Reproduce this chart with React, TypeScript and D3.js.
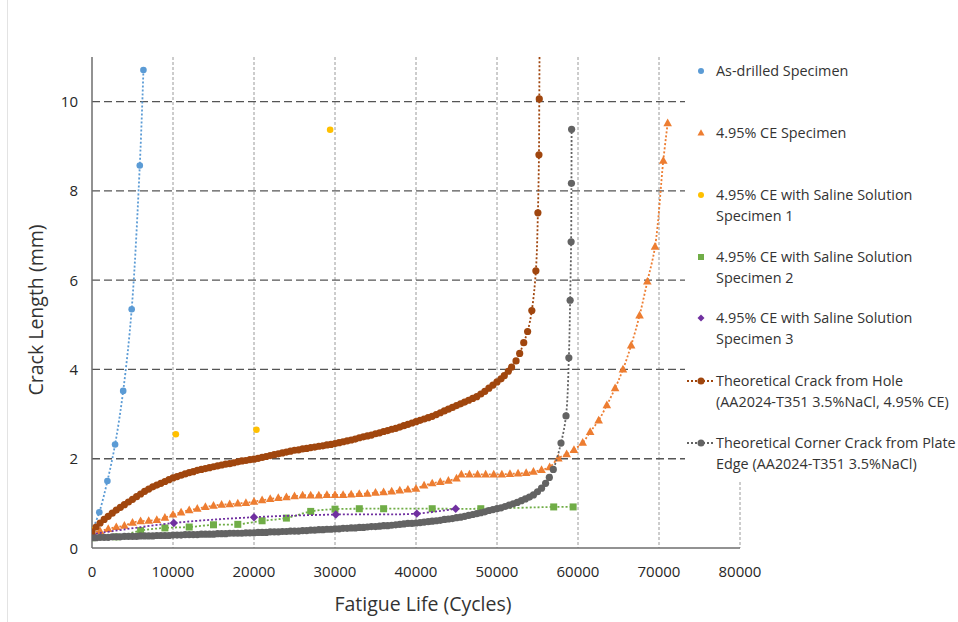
import React from 'react';
import * as d3 from 'd3';

// ---------- DATA ----------
const xTicks = [0, 10000, 20000, 30000, 40000, 50000, 60000, 70000, 80000];
const yTicks = [0, 2, 4, 6, 8, 10];

const asDrilled: [number, number][] = [
  [0, 0.38], [900, 0.8], [1900, 1.5], [2850, 2.32], [3850, 3.52], [4900, 5.35], [5900, 8.57], [6350, 10.71],
];

const ceSpecimen: [number, number][] = [
  [0, 0.35], [1000, 0.38], [2000, 0.43], [3000, 0.47], [4000, 0.5], [5000, 0.57], [6000, 0.6], [7000, 0.61],
  [8000, 0.63], [9000, 0.68], [10000, 0.75], [11000, 0.8], [12000, 0.85], [13000, 0.88], [14000, 0.92],
  [15000, 0.95], [16000, 0.97], [17000, 0.98], [18000, 1.0], [19000, 1.01], [20000, 1.04], [21000, 1.07],
  [22000, 1.1], [23000, 1.12], [24000, 1.14], [25000, 1.16], [26000, 1.18], [27000, 1.18], [28000, 1.18],
  [29000, 1.19], [30000, 1.19], [31000, 1.19], [32000, 1.2], [33000, 1.21], [34000, 1.22], [35000, 1.24],
  [36000, 1.25], [37000, 1.27], [38000, 1.29], [39000, 1.31], [40000, 1.33], [41000, 1.4], [42000, 1.45],
  [43000, 1.48], [44000, 1.51], [45000, 1.56], [45600, 1.65], [46600, 1.65], [47600, 1.65], [48600, 1.65],
  [49600, 1.65], [50600, 1.65], [51600, 1.66], [52600, 1.67], [53600, 1.68], [54500, 1.71], [55500, 1.75],
  [56500, 1.81], [57570, 2.01], [58600, 2.1], [59500, 2.2], [60580, 2.36], [61500, 2.6], [62550, 2.86],
  [63560, 3.2], [64580, 3.58], [65550, 4.0], [66560, 4.54], [67600, 5.21], [68560, 5.97], [69510, 6.75],
  [70530, 8.68], [71070, 9.52],
];

const saline1: [number, number][] = [
  [0, 0.4], [10350, 2.55], [20300, 2.65], [29400, 9.37],
];

const saline2: [number, number][] = [
  [0, 0.23], [3000, 0.25], [6000, 0.39], [9000, 0.45], [12000, 0.47], [15000, 0.52], [18000, 0.53],
  [21000, 0.61], [24000, 0.67], [27000, 0.82], [30000, 0.87], [33000, 0.88], [36000, 0.88], [42000, 0.88],
  [48000, 0.88], [57000, 0.92], [59400, 0.92],
];

const saline3: [number, number][] = [
  [0, 0.31], [10100, 0.56], [20000, 0.69], [30100, 0.75], [40100, 0.77], [44900, 0.88],
];

const holeTheory: [number, number][] = [
  [0, 0.36], [500, 0.47], [1000, 0.56], [1500, 0.64], [2000, 0.71], [2500, 0.78], [3000, 0.85], [3500, 0.91],
  [4000, 0.97], [4500, 1.03], [5000, 1.09], [5500, 1.15], [6000, 1.21], [6500, 1.27], [7000, 1.32], [7500, 1.37],
  [8000, 1.41], [8500, 1.45], [9000, 1.49], [9500, 1.53], [10000, 1.57], [10500, 1.6], [11000, 1.63],
  [11500, 1.66], [12000, 1.69], [12500, 1.71], [13000, 1.74], [13500, 1.76], [14000, 1.78], [14500, 1.8],
  [15000, 1.82], [15500, 1.84], [16000, 1.86], [16500, 1.88], [17000, 1.89], [17500, 1.91], [18000, 1.93],
  [18500, 1.95], [19000, 1.96], [19500, 1.98], [20000, 1.99], [20500, 2.01], [21000, 2.03], [21500, 2.05],
  [22000, 2.07], [22500, 2.09], [23000, 2.11], [23500, 2.13], [24000, 2.15], [24500, 2.17], [25000, 2.19],
  [25500, 2.2], [26000, 2.22], [26500, 2.23], [27000, 2.25], [27500, 2.26], [28000, 2.28], [28500, 2.29],
  [29000, 2.31], [29500, 2.32], [30000, 2.34], [30500, 2.36], [31000, 2.38], [31500, 2.4], [32000, 2.42],
  [32500, 2.44], [33000, 2.47], [33500, 2.49], [34000, 2.51], [34500, 2.53], [35000, 2.56], [35500, 2.58],
  [36000, 2.61], [36500, 2.63], [37000, 2.66], [37500, 2.68], [38000, 2.71], [38500, 2.74], [39000, 2.77],
  [39500, 2.8], [40000, 2.83], [40500, 2.86], [41000, 2.89], [41500, 2.92], [42000, 2.95], [42500, 2.99],
  [43000, 3.03], [43500, 3.07], [44000, 3.11], [44500, 3.15], [45000, 3.19], [45500, 3.23], [46000, 3.27],
  [46500, 3.31], [47000, 3.35], [47500, 3.39], [48000, 3.45], [48500, 3.51], [49000, 3.58], [49500, 3.65],
  [50000, 3.72], [50500, 3.79], [50900, 3.86], [51400, 3.96], [51800, 4.05], [52350, 4.19], [52800, 4.36],
  [53300, 4.6], [53780, 4.85], [54300, 5.32], [54800, 6.21], [55050, 7.51], [55180, 8.81], [55220, 10.06],
  [55260, 11.4],
];

const cornerTheory: [number, number][] = [
  [0, 0.23], [500, 0.23], [1000, 0.24], [1500, 0.24], [2000, 0.24], [2500, 0.25], [3000, 0.25], [3500, 0.25],
  [4000, 0.26], [4500, 0.26], [5000, 0.26], [5500, 0.26], [6000, 0.27], [6500, 0.27], [7000, 0.27],
  [7500, 0.27], [8000, 0.28], [8500, 0.28], [9000, 0.28], [9500, 0.28], [10000, 0.29], [10500, 0.29],
  [11000, 0.29], [11500, 0.3], [12000, 0.3], [12500, 0.3], [13000, 0.3], [13500, 0.31], [14000, 0.31],
  [14500, 0.31], [15000, 0.31], [15500, 0.32], [16000, 0.32], [16500, 0.32], [17000, 0.33], [17500, 0.33],
  [18000, 0.33], [18500, 0.33], [19000, 0.34], [19500, 0.34], [20000, 0.34], [20500, 0.35], [21000, 0.35],
  [21500, 0.35], [22000, 0.36], [22500, 0.36], [23000, 0.36], [23500, 0.37], [24000, 0.37], [24500, 0.38],
  [25000, 0.38], [25500, 0.38], [26000, 0.39], [26500, 0.39], [27000, 0.4], [27500, 0.4], [28000, 0.41],
  [28500, 0.41], [29000, 0.42], [29500, 0.42], [30000, 0.43], [30500, 0.43], [31000, 0.44], [31500, 0.44],
  [32000, 0.45], [32500, 0.45], [33000, 0.46], [33500, 0.46], [34000, 0.47], [34500, 0.48], [35000, 0.48],
  [35500, 0.49], [36000, 0.5], [36500, 0.5], [37000, 0.51], [37500, 0.52], [38000, 0.53], [38500, 0.54],
  [39000, 0.55], [39500, 0.55], [40000, 0.56], [40500, 0.57], [41000, 0.58], [41500, 0.59], [42000, 0.6],
  [42500, 0.61], [43000, 0.62], [43500, 0.64], [44000, 0.65], [44500, 0.66], [45000, 0.68], [45500, 0.69],
  [46000, 0.71], [46500, 0.73], [47000, 0.75], [47500, 0.77], [48000, 0.79], [48500, 0.81], [49000, 0.84],
  [49500, 0.86], [50000, 0.88], [50500, 0.9], [51000, 0.93], [51500, 0.96], [52000, 0.99], [52500, 1.02],
  [53000, 1.06], [53500, 1.1], [54000, 1.14], [54500, 1.19], [55000, 1.26], [55500, 1.34], [56000, 1.45],
  [56460, 1.58], [56950, 1.76], [57900, 2.35], [58520, 2.96], [58870, 4.26], [59030, 5.55], [59150, 6.86],
  [59190, 8.17], [59210, 9.38],
];

// ---------- LAYOUT ----------
const W = 958;
const H = 622;
const PL = 92, PR = 740, PT = 57, PB = 548;
const x = d3.scaleLinear().domain([0, 80000]).range([PL, PR]);
const y = d3.scaleLinear().domain([0, 11]).range([PB, PT]);
const FONT = "'Open Sans', 'Liberation Sans', sans-serif";

const C = {
  blue: '#5B9BD5',
  orange: '#ED7D31',
  yellow: '#FFC000',
  green: '#70AD47',
  purple: '#7030A0',
  brown: '#A0460E',
  gray: '#636363',
};

const lineGen = d3.line<[number, number]>().x(d => x(d[0])).y(d => y(d[1])).curve(d3.curveCatmullRom.alpha(0.5));

type Shape = 'circle' | 'triangle' | 'square' | 'diamond';

function Marker({ shape, cx, cy, color, size }: { shape: Shape; cx: number; cy: number; color: string; size: number }) {
  if (shape === 'circle') return <circle cx={cx} cy={cy} r={size} fill={color} />;
  if (shape === 'square') return <rect x={cx - size} y={cy - size} width={size * 2} height={size * 2} fill={color} />;
  if (shape === 'diamond')
    return <path d={`M${cx},${cy - size}L${cx + size},${cy}L${cx},${cy + size}L${cx - size},${cy}Z`} fill={color} />;
  const h = size * 1.8;
  return <path d={`M${cx},${cy - h * 0.6}L${cx + size},${cy + h * 0.4}L${cx - size},${cy + h * 0.4}Z`} fill={color} />;
}

function Series({ data, color, shape, size, line, lw = 2 }: { data: [number, number][]; color: string; shape: Shape; size: number; line: boolean; lw?: number }) {
  return (
    <g>
      {line && (
        <path d={lineGen(data) || ''} fill="none" stroke={color} strokeWidth={lw} strokeDasharray="2 2" />
      )}
      {data.map((d, i) => (
        <Marker key={i} shape={shape} cx={x(d[0])} cy={y(d[1])} color={color} size={size} />
      ))}
    </g>
  );
}

const legendItems: { lines: string[]; color: string; shape: Shape; y: number; line: boolean; size: number }[] = [
  { lines: ['As-drilled Specimen'], color: C.blue, shape: 'circle', y: 71, line: false, size: 3 },
  { lines: ['4.95% CE Specimen'], color: C.orange, shape: 'triangle', y: 133, line: false, size: 3.5 },
  { lines: ['4.95% CE with Saline Solution', 'Specimen 1'], color: C.yellow, shape: 'circle', y: 195, line: false, size: 3 },
  { lines: ['4.95% CE with Saline Solution', 'Specimen 2'], color: C.green, shape: 'square', y: 257, line: false, size: 3 },
  { lines: ['4.95% CE with Saline Solution', 'Specimen 3'], color: C.purple, shape: 'diamond', y: 318, line: false, size: 3.5 },
  { lines: ['Theoretical Crack from Hole', '(AA2024-T351 3.5%NaCl, 4.95% CE)'], color: C.brown, shape: 'circle', y: 381, line: true, size: 3.5 },
  { lines: ['Theoretical Corner Crack from Plate', 'Edge (AA2024-T351 3.5%NaCl)'], color: C.gray, shape: 'circle', y: 443, line: true, size: 3.5 },
];

export default function App() {
  return (
    <svg width={W} height={H} viewBox={`0 0 ${W} ${H}`} style={{ position: 'absolute', left: 0, top: 0, background: '#fff' }} fontFamily={FONT}>
      <defs>
        <clipPath id="plotClip">
          <rect x={PL} y={PT} width={PR - PL + 10} height={PB - PT} />
        </clipPath>
      </defs>
      <rect x={0} y={0} width={W} height={H} fill="#fff" />
      <line x1={7.5} x2={7.5} y1={0} y2={H} stroke="#e3e3e3" strokeWidth={1} />

      {/* vertical gridlines */}
      {xTicks.filter(t => t > 0).map(t => (
        <line key={'vx' + t} x1={x(t)} x2={x(t)} y1={PT} y2={PB} stroke="#9a9a9a" strokeWidth={1} strokeDasharray="3 2" />
      ))}
      {/* horizontal gridlines */}
      {yTicks.filter(t => t > 0).map(t => (
        <line key={'hy' + t} x1={PL} x2={PR} y1={y(t)} y2={y(t)} stroke="#555" strokeWidth={1.3} strokeDasharray="8 4" />
      ))}

      {/* axes */}
      <line x1={PL} x2={PL} y1={PT} y2={PB} stroke="#6e6e6e" strokeWidth={1.5} />
      <line x1={PL} x2={PR} y1={PB} y2={PB} stroke="#6e6e6e" strokeWidth={1.5} />

      {/* tick labels */}
      {yTicks.map(t => (
        <text key={'yl' + t} x={78} y={y(t) + 5.5} textAnchor="end" fontSize={15} fill="#262626">{t}</text>
      ))}
      {xTicks.map(t => (
        <text key={'xl' + t} x={x(t)} y={577} textAnchor="middle" fontSize={15} fill="#262626">{t}</text>
      ))}

      {/* axis titles */}
      <text x={423} y={611} textAnchor="middle" fontSize={19.5} fill="#333">Fatigue Life (Cycles)</text>
      <text transform={`translate(43, 310) rotate(-90)`} textAnchor="middle" fontSize={19.5} fill="#333">Crack Length (mm)</text>

      {/* series */}
      <g clipPath="url(#plotClip)">
        <Series data={asDrilled} color={C.blue} shape="circle" size={3.3} line={true} lw={1.8} />
        <Series data={ceSpecimen} color={C.orange} shape="triangle" size={4.3} line={true} lw={1.8} />
        <Series data={saline1} color={C.yellow} shape="circle" size={3.3} line={false} />
        <Series data={saline2} color={C.green} shape="square" size={3.5} line={true} lw={1.8} />
        <Series data={saline3} color={C.purple} shape="diamond" size={4.2} line={true} lw={1.8} />
        <Series data={holeTheory} color={C.brown} shape="circle" size={3.6} line={true} lw={1.8} />
        <Series data={cornerTheory} color={C.gray} shape="circle" size={3.6} line={true} lw={1.8} />
      </g>

      {/* legend */}
      <rect x={685} y={PT} width={W - 685} height={482 - PT} fill="#fff" />
      {legendItems.map((it, i) => (
        <g key={'lg' + i}>
          {it.line && <line x1={687} x2={715} y1={it.y} y2={it.y} stroke={it.color} strokeWidth={1.8} strokeDasharray="2 2" />}
          <Marker shape={it.shape} cx={701} cy={it.y} color={it.color} size={it.size} />
          {it.lines.map((s, j) => (
            <text key={j} x={716} y={it.y + 5 + j * 21} fontSize={14.4} fill="#333">{s}</text>
          ))}
        </g>
      ))}
    </svg>
  );
}
